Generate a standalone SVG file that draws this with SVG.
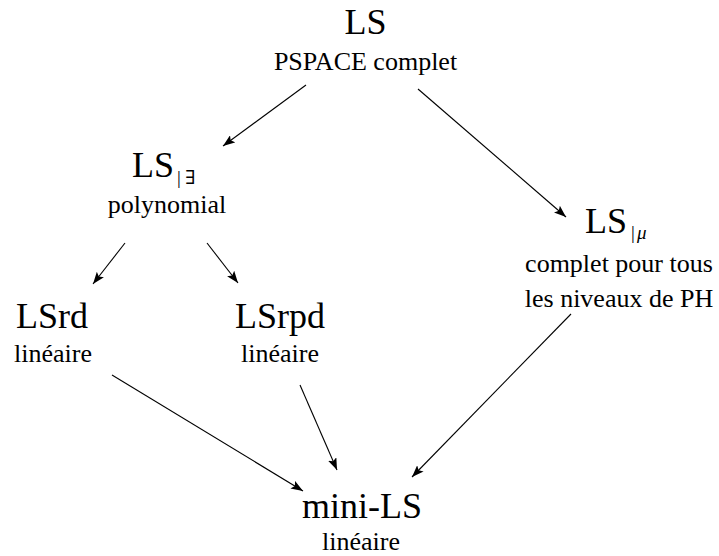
<svg xmlns="http://www.w3.org/2000/svg" width="719" height="556" viewBox="0 0 719 556">
<style>
.big{font-size:36px}
.small{font-size:26px}
.sub{font-size:19px}
.edge{stroke:#000;stroke-width:1.1;fill:none;marker-end:url(#ah)}
</style>
<defs>
<marker id="ah" markerUnits="userSpaceOnUse" markerWidth="13" markerHeight="9" refX="12" refY="4.5" orient="auto">
<path d="M0,0 L12,4.5 L0,9 L2.5,4.5 z" fill="#000"/>
</marker>
</defs>
<rect width="719" height="556" fill="#fff"/>
<g id="connectors">
<line class="edge" x1="306" y1="85" x2="223" y2="146"/>
<line class="edge" x1="418" y1="89" x2="566" y2="217"/>
<line class="edge" x1="125" y1="243" x2="93" y2="284"/>
<line class="edge" x1="207" y1="243" x2="238" y2="283"/>
<line class="edge" x1="112" y1="375" x2="303" y2="491"/>
<line class="edge" x1="300" y1="385" x2="337" y2="470"/>
<line class="edge" x1="571" y1="314" x2="412" y2="477"/>
</g>
<g id="node-LS">
<text style="font-family:'Liberation Serif',serif" class="big" x="365.5" y="34" text-anchor="middle">LS</text>
<text style="font-family:'Liberation Serif',serif" class="small" x="365.5" y="70" text-anchor="middle">PSPACE complet</text>
</g>
<g id="node-LS-exists">
<text style="font-family:'Liberation Serif',serif" class="big" x="132" y="177">LS<tspan class="sub" x="177" y="184">|</tspan><tspan class="sub" x="185" y="184" style="font-family:'DejaVu Serif',serif">∃</tspan></text>
<text style="font-family:'Liberation Serif',serif" class="small" x="167" y="213" text-anchor="middle">polynomial</text>
</g>
<g id="node-LS-mu">
<text style="font-family:'Liberation Serif',serif" class="big" x="585" y="233">LS<tspan class="sub" x="631" y="239">|</tspan><tspan class="sub" x="637" y="239" font-style="italic">μ</tspan></text>
<text style="font-family:'Liberation Serif',serif" class="small" x="619" y="272" text-anchor="middle">complet pour tous</text>
<text style="font-family:'Liberation Serif',serif" class="small" x="619" y="307" text-anchor="middle">les niveaux de PH</text>
</g>
<g id="node-LSrd">
<text style="font-family:'Liberation Serif',serif" class="big" x="52" y="328" text-anchor="middle">LSrd</text>
<text style="font-family:'Liberation Serif',serif" class="small" x="53" y="362" text-anchor="middle">linéaire</text>
</g>
<g id="node-LSrpd">
<text style="font-family:'Liberation Serif',serif" class="big" x="280" y="328" text-anchor="middle">LSrpd</text>
<text style="font-family:'Liberation Serif',serif" class="small" x="280" y="362" text-anchor="middle">linéaire</text>
</g>
<g id="node-mini-LS">
<text style="font-family:'Liberation Serif',serif" class="big" x="362" y="518" text-anchor="middle">mini-LS</text>
<text style="font-family:'Liberation Serif',serif" class="small" x="361" y="550" text-anchor="middle">linéaire</text>
</g>
</svg>
